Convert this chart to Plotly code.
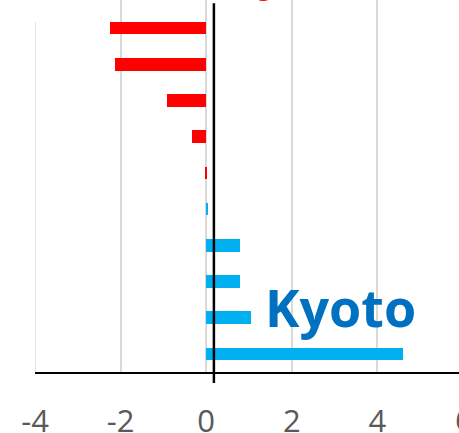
import plotly.graph_objects as go

# Rows listed bottom-to-top
rows = list(range(10))
values = [4.59, 1.04, 0.79, 0.79, 0.03, -0.005, -0.33, -0.91, -2.12, -2.25]
x_ticks = [-4, -2, 0, 2, 4]
extra_tick = 6

RED = "#FF0000"
BLUE = "#00B0F0"
GRID = "#D9D9D9"
TICK_FONT = dict(family="Open Sans", size=31, color="#595959")
colors = [BLUE if v >= 0 else RED for v in values]

fig = go.Figure()
fig.add_trace(go.Bar(
    x=values, y=rows, orientation="h",
    marker=dict(color=colors, line=dict(width=0)),
    width=0.345, showlegend=False, hoverinfo="x",
))

# grid line on the left edge of the plot area
fig.add_shape(type="line", xref="x", yref="paper",
              x0=-4, x1=-4, y0=0, y1=0.9409,
              line=dict(color=GRID, width=1.5), layer="between")

# white box behind the heading (hides the upper grid on the left)
fig.add_shape(type="rect", xref="paper", yref="paper",
              x0=-0.1, x1=0.41, y0=0.9409, y1=1.05,
              fillcolor="white", line=dict(width=0), layer="between")

# vertical reference line
fig.add_shape(type="line", xref="x", yref="paper",
              x0=0.18, x1=0.18, y0=-0.0296, y1=0.991,
              line=dict(color="black", width=2.5), layer="above")

fig.add_annotation(text="<b>Kyoto</b>", x=1.33, y=1.30, xref="x", yref="y",
                   xanchor="left", yanchor="middle", showarrow=False,
                   font=dict(family="Open Sans", size=52, color="#0070C0"))

fig.add_annotation(text="<b>Tokyo</b>", x=-1.05, y=0.9866, xref="x", yref="paper",
                   xanchor="left", yanchor="bottom", showarrow=False,
                   font=dict(family="Open Sans", size=52, color=RED))

# last tick label sits just past the right edge of the plot area
fig.add_annotation(text=str(extra_tick), x=1.011, y=-0.1263, xref="paper", yref="paper",
                   xanchor="center", yanchor="middle", showarrow=False,
                   font=TICK_FONT)

fig.update_xaxes(range=[-4, 5.907], tickvals=x_ticks, ticktext=[str(t) for t in x_ticks],
                 showgrid=True, gridcolor=GRID, gridwidth=1.5,
                 zeroline=False, showline=True, linecolor="black", linewidth=2,
                 ticks="", ticklabelstandoff=21, automargin=False,
                 tickfont=TICK_FONT)
fig.update_yaxes(range=[-0.5, 9.776], showgrid=False, zeroline=False,
                 showline=False, showticklabels=False, ticks="", automargin=False)

fig.update_layout(width=459, height=433, margin=dict(l=35, r=0, t=0, b=61),
                  paper_bgcolor="white", plot_bgcolor="white", bargap=0)

fig.write_html("out.html")
